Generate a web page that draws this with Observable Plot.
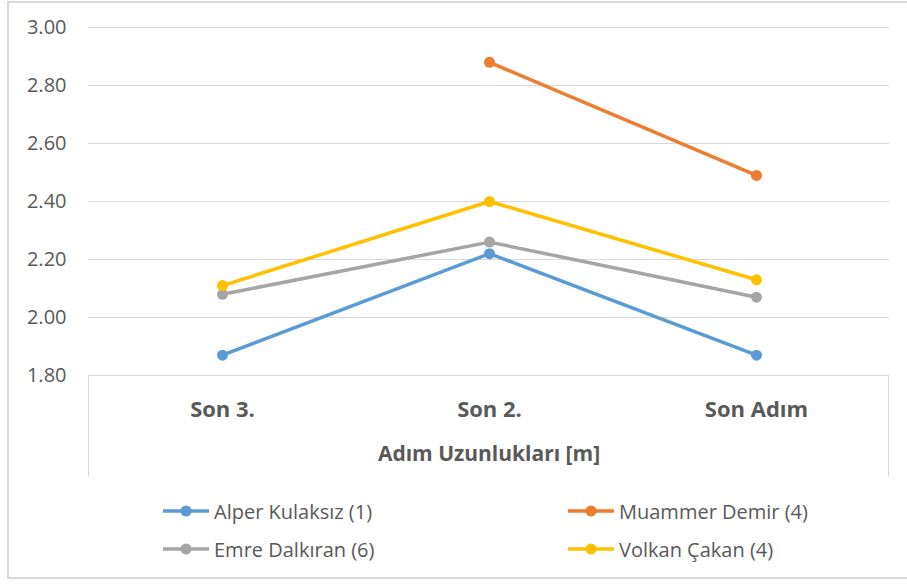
<!DOCTYPE html>
<html>
<head>
<meta charset="utf-8">
<script src="https://cdn.jsdelivr.net/npm/d3@7"></script>
<script src="https://cdn.jsdelivr.net/npm/@observablehq/plot@0.6"></script>
<style>
  html, body { margin: 0; padding: 0; background: #fff; }
  body { width: 907px; height: 585px; position: relative; overflow: hidden; font-family: "Open Sans", "Noto Sans", sans-serif; }
  #border { position: absolute; left: 7px; top: 1px; width: 910px; height: 578px; border: 2px solid #d9d9d9; box-sizing: border-box; }
  #chart { position: absolute; left: 0; top: 0; }
  #band { position: absolute; left: 88px; top: 375px; width: 801px; height: 101px; border-left: 1px solid #d9d9d9; border-right: 1px solid #d9d9d9; box-sizing: border-box; }
  .leg { position: absolute; display: flex; align-items: center; height: 30px; font-size: 20px; color: #595959; white-space: nowrap; }
  .leg svg { margin-right: 4px; }
</style>
</head>
<body>
<div id="border"></div>
<div id="band"></div>
<div id="chart"></div>
<div id="legend"></div>
<script>
const categories = ["Son 3.", "Son 2.", "Son Adım"];
const seriesNames = ["Alper Kulaksız (1)", "Muammer Demir (4)", "Emre Dalkıran (6)", "Volkan Çakan (4)"];
const seriesColors = ["#5B9BD5", "#ED7D31", "#A5A5A5", "#FFC000"];
const alper = [1.87, 2.22, 1.87];
const muammer = [null, 2.88, 2.49];
const emre = [2.08, 2.26, 2.07];
const volkan = [2.11, 2.40, 2.13];
const yTicks = [1.8, 2.0, 2.2, 2.4, 2.6, 2.8, 3.0];
const xTitle = "Adım Uzunlukları [m]";

const seriesValues = [alper, muammer, emre, volkan];
const data = [];
seriesNames.forEach((name, i) => {
  categories.forEach((c, j) => {
    const v = seriesValues[i][j];
    if (v != null) data.push({series: name, cat: c, value: v});
  });
});

const textColor = "#595959";
const chart = Plot.plot({
  width: 907,
  height: 480,
  marginLeft: 88,
  marginRight: 18,
  marginTop: 27,
  marginBottom: 105,
  style: {fontFamily: "'Open Sans', 'Noto Sans', sans-serif", background: "transparent", overflow: "visible"},
  x: {type: "point", domain: categories, padding: 0.5, label: null},
  y: {domain: [1.8, 3.0], label: null},
  color: {domain: seriesNames, range: seriesColors},
  marks: [
    Plot.gridY(yTicks, {stroke: "#d9d9d9", strokeOpacity: 1, strokeWidth: 1}),
    Plot.axisY(yTicks, {tickSize: 0, tickPadding: 22, tickFormat: d3.format(".2f"), fontSize: 20, fill: textColor, label: null}),
    Plot.axisX({tickSize: 0, tickPadding: 26, fontSize: 22, fontWeight: "bold", fill: textColor, label: null}),
    Plot.text([xTitle], {frameAnchor: "bottom", dy: 85, fontSize: 21, fontWeight: "bold", fill: textColor}),
    Plot.line(data, {x: "cat", y: "value", z: "series", stroke: "series", strokeWidth: 3.5, curve: "linear"}),
    Plot.dot(data, {x: "cat", y: "value", fill: "series", r: 5.5})
  ]
});
document.getElementById("chart").appendChild(chart);

// Legend (HTML below the plot)
const legend = document.getElementById("legend");
const legPos = [
  {left: 162, top: 496},
  {left: 567, top: 496},
  {left: 162, top: 534},
  {left: 567, top: 534}
];
seriesNames.forEach((name, i) => {
  const div = document.createElement("div");
  div.className = "leg";
  div.style.left = legPos[i].left + "px";
  div.style.top = legPos[i].top + "px";
  const c = seriesColors[i];
  div.innerHTML = `<svg width="48" height="14"><line x1="1" y1="7" x2="47" y2="7" stroke="${c}" stroke-width="3.5"/><circle cx="24" cy="7" r="5.5" fill="${c}"/></svg><span></span>`;
  div.querySelector("span").textContent = name;
  legend.appendChild(div);
});
</script>
</body>
</html>
